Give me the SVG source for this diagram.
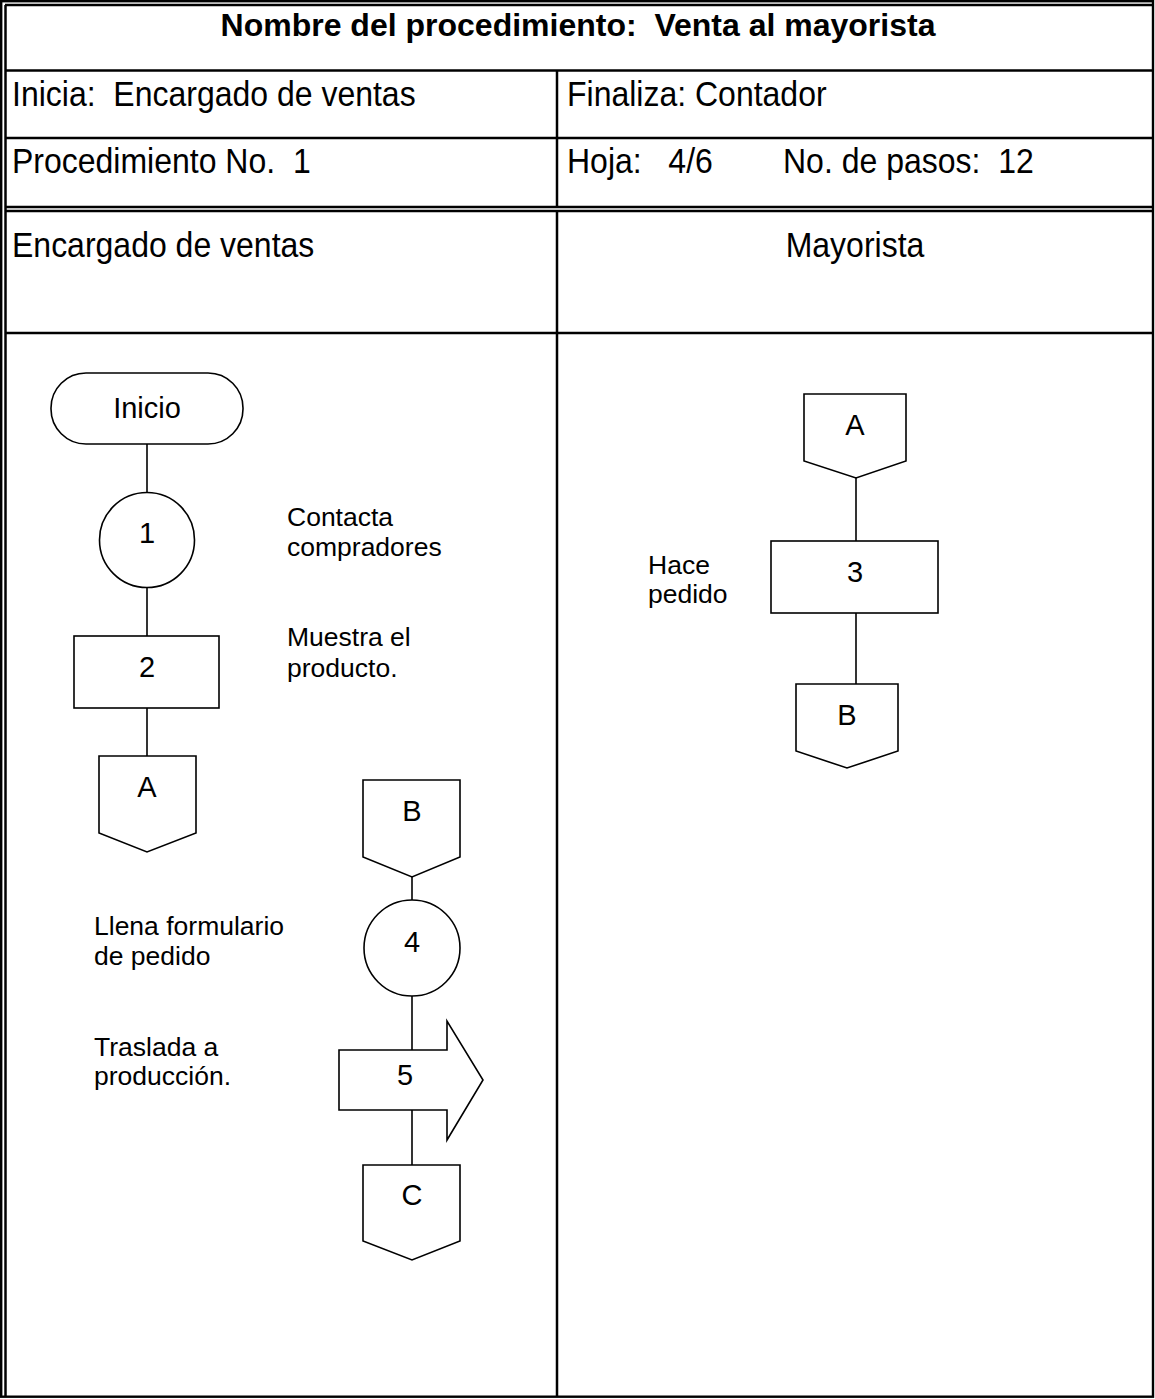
<svg xmlns="http://www.w3.org/2000/svg" width="1155" height="1399" viewBox="0 0 1155 1399">
<style>
.t{font-family:"Liberation Sans",Arial,sans-serif;fill:#000;white-space:pre}
.h{font-size:32px}
.b{font-size:32px;font-weight:bold}
.s{font-size:29px}
.l{font-size:26.5px}
.ln{stroke:#000;stroke-width:2.5;fill:none}
.sh{stroke:#000;stroke-width:1.6;fill:#fff}
.c{stroke:#000;stroke-width:1.6;fill:none}
</style>
<rect width="1155" height="1399" fill="#fff"/>
<g id="table">
<rect x="1.2" y="1.2" width="1151.8" height="1395.5" fill="none" stroke="#000" stroke-width="2.4"/>
<line class="ln" x1="5" y1="5" x2="1152" y2="5" stroke-width="1.8"/>
<line class="ln" x1="5.5" y1="5" x2="5.5" y2="1396" stroke-width="1.8"/>
<line class="ln" x1="5" y1="70.5" x2="1152" y2="70.5"/>
<line class="ln" x1="5" y1="138" x2="1152" y2="138"/>
<line class="ln" x1="5" y1="207" x2="1152" y2="207"/>
<line class="ln" x1="5" y1="211" x2="1152" y2="211"/>
<line class="ln" x1="5" y1="333" x2="1152" y2="333"/>
<line class="ln" x1="557" y1="70" x2="557" y2="207"/>
<line class="ln" x1="557" y1="211" x2="557" y2="1396"/>
<text class="t b" x="578" y="36" text-anchor="middle">Nombre del procedimiento:  Venta al mayorista</text>
<text class="t h" transform="translate(12,106) scale(1,1.1)">Inicia:  Encargado de ventas</text>
<text class="t h" transform="translate(567,106) scale(1,1.1)">Finaliza: Contador</text>
<text class="t h" transform="translate(12,173) scale(1,1.1)">Procedimiento No.  1</text>
<text class="t h" transform="translate(567,173) scale(1,1.1)">Hoja:   4/6</text>
<text class="t h" transform="translate(783,173) scale(1,1.1)">No. de pasos:  12</text>
<text class="t h" transform="translate(12,257) scale(1,1.1)">Encargado de ventas</text>
<text class="t h" transform="translate(855,257) scale(1,1.1)" text-anchor="middle">Mayorista</text>
</g>
<g id="connectors">
<line class="c" x1="147" y1="444" x2="147" y2="492"/>
<line class="c" x1="147" y1="588" x2="147" y2="636"/>
<line class="c" x1="147" y1="708" x2="147" y2="756"/>
<line class="c" x1="412" y1="877" x2="412" y2="900"/>
<line class="c" x1="412" y1="996" x2="412" y2="1050"/>
<line class="c" x1="412" y1="1110" x2="412" y2="1165"/>
<line class="c" x1="856" y1="478" x2="856" y2="541"/>
<line class="c" x1="856" y1="613" x2="856" y2="684"/>
</g>
<g id="inicio">
<rect class="sh" x="51" y="373" width="192" height="71" rx="35" ry="35"/>
<text class="t s" x="147" y="418" text-anchor="middle">Inicio</text>
</g>
<g id="step1">
<circle class="sh" cx="147" cy="540" r="47.5"/>
<text class="t s" x="147" y="543" text-anchor="middle">1</text>
<text class="t l" x="287" y="526">Contacta</text>
<text class="t l" x="287" y="556">compradores</text>
</g>
<g id="step2">
<rect class="sh" x="74" y="636" width="145" height="72"/>
<text class="t s" x="147" y="677" text-anchor="middle">2</text>
<text class="t l" x="287" y="646">Muestra el</text>
<text class="t l" x="287" y="677">producto.</text>
</g>
<g id="connA1">
<path class="sh" d="M99,756 H196 V833 L147,852 L99,833 Z"/>
<text class="t s" x="147" y="797" text-anchor="middle">A</text>
</g>
<g id="connB1">
<path class="sh" d="M363,780 H460 V857 L412,877 L363,857 Z"/>
<text class="t s" x="412" y="821" text-anchor="middle">B</text>
</g>
<g id="step4">
<circle class="sh" cx="412" cy="948" r="48"/>
<text class="t s" x="412" y="952" text-anchor="middle">4</text>
<text class="t l" x="94" y="935">Llena formulario</text>
<text class="t l" x="94" y="965">de pedido</text>
</g>
<g id="step5">
<path class="sh" d="M339,1050 H447 V1021 L483,1080 L447,1140 V1110 H339 Z"/>
<text class="t s" x="405" y="1085" text-anchor="middle">5</text>
<text class="t l" x="94" y="1056">Traslada a</text>
<text class="t l" x="94" y="1085">producción.</text>
</g>
<g id="connC">
<path class="sh" d="M363,1165 H460 V1241 L412,1260 L363,1241 Z"/>
<text class="t s" x="412" y="1205" text-anchor="middle">C</text>
</g>
<g id="connA2">
<path class="sh" d="M804,394 H906 V461 L856,478 L804,461 Z"/>
<text class="t s" x="855" y="435" text-anchor="middle">A</text>
</g>
<g id="step3">
<rect class="sh" x="771" y="541" width="167" height="72"/>
<text class="t s" x="855" y="582" text-anchor="middle">3</text>
<text class="t l" x="648" y="574">Hace</text>
<text class="t l" x="648" y="603">pedido</text>
</g>
<g id="connB2">
<path class="sh" d="M796,684 H898 V751 L847,768 L796,751 Z"/>
<text class="t s" x="847" y="725" text-anchor="middle">B</text>
</g>
</svg>
